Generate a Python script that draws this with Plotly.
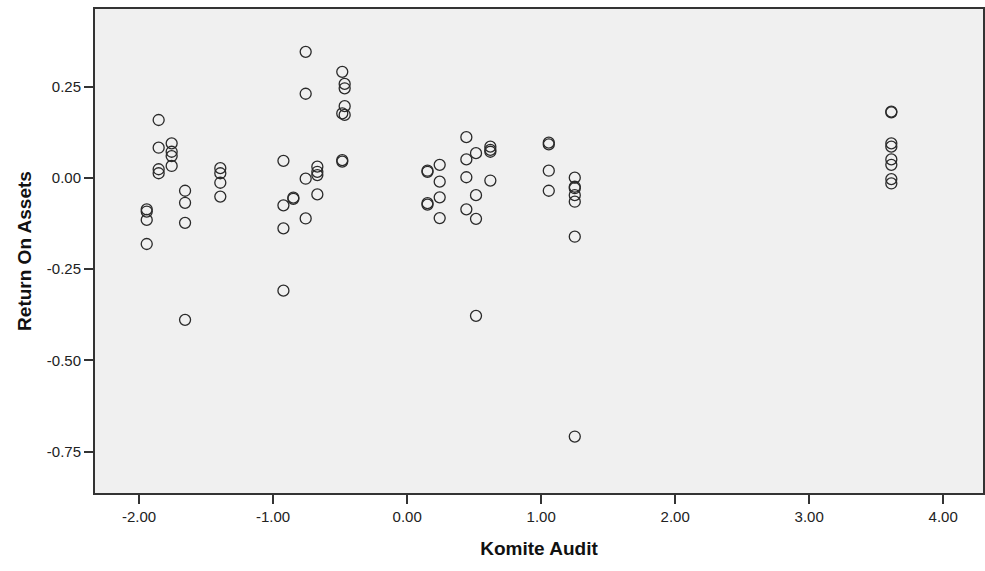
import plotly.graph_objects as go

# Komite Audit (x) and Return On Assets (y)
komite_audit = [
    -1.854, -1.854, -1.854, -1.854,
    -1.757, -1.757, -1.757, -1.757,
    -1.943, -1.943, -1.943, -1.943,
    -1.657, -1.657, -1.657, -1.657,
    -1.394, -1.394, -1.394, -1.394,
    -0.923, -0.923, -0.923, -0.923,
    -0.849, -0.849,
    -0.757, -0.757, -0.757, -0.757,
    -0.670, -0.670, -0.670, -0.670,
    -0.484, -0.466, -0.466, -0.466, -0.484, -0.466, -0.484, -0.484,
    0.152, 0.152, 0.152, 0.152,
    0.243, 0.243, 0.243, 0.243,
    0.442, 0.442, 0.442, 0.442,
    0.514, 0.514, 0.514, 0.514,
    0.621, 0.621, 0.621, 0.621,
    1.057, 1.057, 1.057, 1.057,
    1.251, 1.251, 1.251, 1.251, 1.251, 1.251, 1.251,
    3.613, 3.613, 3.613, 3.613, 3.613, 3.613, 3.613, 3.613,
]
return_on_assets = [
    0.159, 0.083, 0.024, 0.013,
    0.095, 0.072, 0.060, 0.033,
    -0.086, -0.092, -0.115, -0.181,
    -0.035, -0.068, -0.123, -0.389,
    0.027, 0.013, -0.013, -0.051,
    0.047, -0.075, -0.138, -0.309,
    -0.054, -0.057,
    0.346, 0.231, -0.002, -0.111,
    0.031, 0.017, 0.008, -0.045,
    0.291, 0.258, 0.246, 0.197, 0.177, 0.173, 0.049, 0.045,
    0.020, 0.017, -0.069, -0.073,
    0.036, -0.010, -0.053, -0.110,
    0.112, 0.051, 0.002, -0.086,
    0.068, -0.047, -0.112, -0.378,
    0.086, 0.077, 0.072, -0.007,
    0.097, 0.092, 0.020, -0.035,
    0.001, -0.024, -0.028, -0.047, -0.065, -0.161, -0.709,
    0.182, 0.180, 0.095, 0.086, 0.051, 0.036, -0.003, -0.015,
]

x_ticks = [-2, -1, 0, 1, 2, 3, 4]
x_tick_labels = ["-2.00", "-1.00", "0.00", "1.00", "2.00", "3.00", "4.00"]
y_ticks = [-0.75, -0.5, -0.25, 0.0, 0.25]
y_tick_labels = ["-0.75", "-0.50", "-0.25", "0.00", "0.25"]

fig = go.Figure()
fig.add_trace(go.Scatter(
    x=komite_audit, y=return_on_assets, mode="markers",
    marker=dict(symbol="circle-open", size=11, color="#2a2a2a",
                line=dict(width=1.3, color="#2a2a2a")),
    hoverinfo="x+y", showlegend=False,
))

axis_font = dict(family="Liberation Sans, Arial, sans-serif", size=15, color="#222222")
title_font = dict(family="Liberation Sans, Arial, sans-serif", size=19, color="#111111")

fig.update_layout(
    width=985, height=571,
    margin=dict(l=95, r=0, t=9, b=78),
    paper_bgcolor="white",
    plot_bgcolor="#f0f0f0",
    xaxis=dict(
        range=[-2.329, 4.297], tickvals=x_ticks, ticktext=x_tick_labels,
        showgrid=False, zeroline=False, showline=True, linecolor="#333333", linewidth=2,
        mirror=True, ticks="outside", ticklen=9, tickwidth=2, tickcolor="#333333",
        tickfont=axis_font,
        title=dict(text="<b>Komite Audit</b>", font=title_font, standoff=18),
    ),
    yaxis=dict(
        range=[-0.8638, 0.4634], tickvals=y_ticks, ticktext=y_tick_labels,
        showgrid=False, zeroline=False, showline=True, linecolor="#333333", linewidth=2,
        mirror=True, ticks="outside", ticklen=9, tickwidth=2, tickcolor="#333333",
        tickfont=axis_font,
        title=dict(text="<b>Return On Assets</b>", font=title_font, standoff=10),
    ),
)

fig.write_html("out.html")
